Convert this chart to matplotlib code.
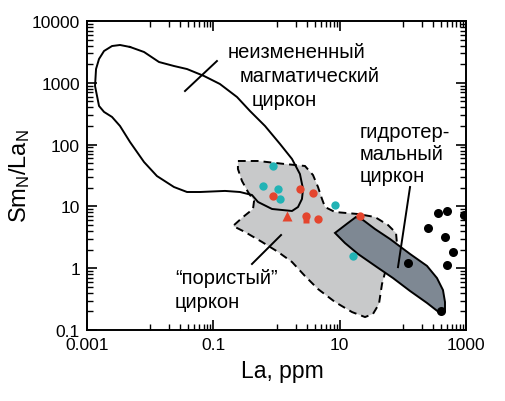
import matplotlib
matplotlib.use('Agg')
import matplotlib.pyplot as plt
from matplotlib.ticker import FixedLocator, FixedFormatter, NullFormatter

plt.rcParams['font.family'] = ['Liberation Sans', 'DejaVu Sans']
plt.rcParams['mathtext.fontset'] = 'custom'
plt.rcParams['mathtext.rm'] = 'Liberation Sans'
plt.rcParams['mathtext.it'] = 'Liberation Sans:italic'
plt.rcParams['mathtext.bf'] = 'Liberation Sans:bold'

# ---- data (La ppm, Sm_N/La_N) ----
magmatic_la = [0.0048, 0.0080, 0.0138, 0.0238, 0.0383, 0.0711, 0.127, 0.237, 0.380, 0.658,
               1.14, 1.76, 2.35, 2.63, 2.53, 2.19, 1.76, 0.85, 0.509, 0.409, 0.264, 0.153,
               0.0615, 0.0383, 0.0238, 0.0128, 0.0080, 0.0048, 0.00333, 0.00249, 0.00186,
               0.00155, 0.00134, 0.00139, 0.00155, 0.00186, 0.00249, 0.00333]
magmatic_ratio = [3800, 3150, 2170, 1870, 1670, 1290, 957, 589, 350, 200,
                  102, 58.5, 33.4, 19.1, 13.2, 9.77, 8.43, 9.08, 11.8, 15.3, 17.1, 17.8,
                  17.1, 17.1, 20.6, 31.0, 52.2, 110, 200, 280, 338,
                  422, 887, 1670, 2430, 3270, 3935, 4090]

porous_la = [0.245, 0.509, 1.36, 2.82, 3.78, 4.54, 5.25, 5.86, 8.43, 19.5, 36.2, 58.2, 78.0,
             80.8, 67.3, 54.1, 46.8, 41.9, 33.7, 25.2, 15.7, 8.43, 4.54, 2.82, 1.76, 1.06,
             0.589, 0.317, 0.205, 0.295, 0.425, 0.441, 0.354, 0.284, 0.245]
porous_ratio = [54.3, 54.3, 48.5, 45.1, 32.2, 20.6, 13.2, 9.77, 8.11, 7.53, 6.73, 5.00, 3.72,
                2.47, 1.57, 0.97, 0.554, 0.264, 0.182, 0.162, 0.195, 0.284, 0.46, 0.748, 1.26, 1.83,
                2.66, 3.85, 4.82, 6.73, 9.08, 12.2, 17.1, 25.8, 40.3]

hydro_la = [8.43, 13.5, 18.1, 23.4, 36.2, 62.6, 130, 241, 347, 432, 465, 465, 387, 241, 130,
            69.8, 39.0, 19.5, 12.1]
hydro_ratio = [3.72, 5.38, 6.73, 6.03, 4.31, 2.97, 1.70, 1.09, 0.693, 0.443, 0.284, 0.203,
               0.188, 0.274, 0.428, 0.693, 1.04, 1.70, 2.56]

cyan_la = [0.871, 0.618, 1.07, 1.14, 8.43, 16.4]
cyan_ratio = [44.6, 21.6, 19.1, 13.2, 10.5, 1.56]

red_circle_la = [0.889, 2.35, 3.82, 2.93, 4.49, 21.0]
red_circle_ratio = [14.9, 19.1, 16.3, 7.0, 6.25, 7.07]
red_square_la = [2.93]
red_square_ratio = [6.0]
red_triangle_la = [1.45]
red_triangle_ratio = [7.07]

black_la = [364, 506, 946, 253, 465, 615, 506, 122, 397]
black_ratio = [7.73, 8.52, 7.26, 4.42, 3.23, 1.85, 1.13, 1.21, 0.205]

x_ticks = [0.001, 0.1, 10, 1000]
x_tick_labels = ['0.001', '0.1', '10', '1000']
y_ticks = [0.1, 1, 10, 100, 1000, 10000]
y_tick_labels = ['0.1', '1', '10', '100', '1000', '10000']

label_magmatic = ['неизмененный', 'магматический', 'циркон']
label_hydro = ['гидротер-', 'мальный', 'циркон']
label_porous = ['“пористый”', 'циркон']

# ---- figure ----
W, H = 505, 402
fig = plt.figure(figsize=(W / 100, H / 100), dpi=100)
ax = fig.add_axes([87 / W, 1 - 331 / H, 379 / W, 309 / H])
ax.set_xscale('log')
ax.set_yscale('log')
ax.set_xlim(0.001, 1000)
ax.set_ylim(0.1, 10000)

dash = (0, (4, 2.6))
ax.fill(porous_la, porous_ratio, facecolor='#c8c9ca', edgecolor='none', zorder=1)
ax.fill(porous_la, porous_ratio, facecolor='none', edgecolor='black', lw=1.4,
        linestyle=dash, zorder=2)
ax.fill(hydro_la, hydro_ratio, facecolor='#7e8893', edgecolor='black', lw=1.4, zorder=2.5)
ax.plot(magmatic_la + magmatic_la[:1], magmatic_ratio + magmatic_ratio[:1],
        color='black', lw=1.4, zorder=3)

# leader lines
ax.plot([0.0356, 0.114], [736, 2250], color='black', lw=1.4, zorder=3)
ax.plot([0.409, 1.18], [1.17, 3.44], color='black', lw=1.4, zorder=3)
ax.plot([130, 83.8], [20.6, 1.04], color='black', lw=1.4, zorder=3)

ax.plot(cyan_la, cyan_ratio, 'o', color='#22b3b5', ms=6.0, mec='none', zorder=5)
ax.plot(red_square_la, red_square_ratio, 's', color='#e4452e', ms=5.0, mec='none', zorder=5)
ax.plot(red_circle_la, red_circle_ratio, 'o', color='#e4452e', ms=6.0, mec='none', zorder=5)
ax.plot(red_triangle_la, red_triangle_ratio, '^', color='#e4452e', ms=6.5, mec='none', zorder=5)
ax.plot(black_la, black_ratio, 'o', color='black', ms=6.5, mec='none', zorder=5)

# ticks
ax.xaxis.set_major_locator(FixedLocator(x_ticks))
ax.xaxis.set_major_formatter(FixedFormatter(x_tick_labels))
x_minor = []
for m in x_ticks[:-1]:
    x_minor += [m * 10 * k for k in range(1, 10)]
ax.xaxis.set_minor_locator(FixedLocator(x_minor))
ax.xaxis.set_minor_formatter(NullFormatter())
ax.yaxis.set_major_locator(FixedLocator(y_ticks))
ax.yaxis.set_major_formatter(FixedFormatter(y_tick_labels))
y_minor = []
for m in y_ticks[:-1]:
    y_minor += [m * k for k in range(2, 10)]
ax.yaxis.set_minor_locator(FixedLocator(y_minor))
ax.yaxis.set_minor_formatter(NullFormatter())

ax.tick_params(which='both', direction='in', top=True, right=True, colors='black')
ax.tick_params(which='major', length=7, width=1.2, labelsize=12.5)
ax.tick_params(which='minor', length=4, width=1.0)
ax.tick_params(axis='x', which='major', pad=5)
ax.tick_params(axis='y', which='major', pad=5)
for s in ax.spines.values():
    s.set_linewidth(1.4)

def fp(x, y):
    return x / W, 1 - y / H

fs = 14.5
for txt, (x, y) in zip(label_magmatic, [(228, 53), (240, 77), (252, 100)]):
    fig.text(*fp(x, y), txt, fontsize=fs, ha='left', va='center')
for txt, (x, y) in zip(label_hydro, [(360, 133), (360, 155), (360, 177)]):
    fig.text(*fp(x, y), txt, fontsize=fs, ha='left', va='center')
for txt, (x, y) in zip(label_porous, [(175, 279), (175, 302)]):
    fig.text(*fp(x, y), txt, fontsize=fs, ha='left', va='center')

fig.text(*fp(282, 372), 'La, ppm', fontsize=16.5, ha='center', va='center')
fig.text(*fp(20, 176), r'Sm$_\mathregular{N}$/La$_\mathregular{N}$', fontsize=17,
         ha='center', va='center', rotation=90)

fig.savefig('out.png', dpi=100)
